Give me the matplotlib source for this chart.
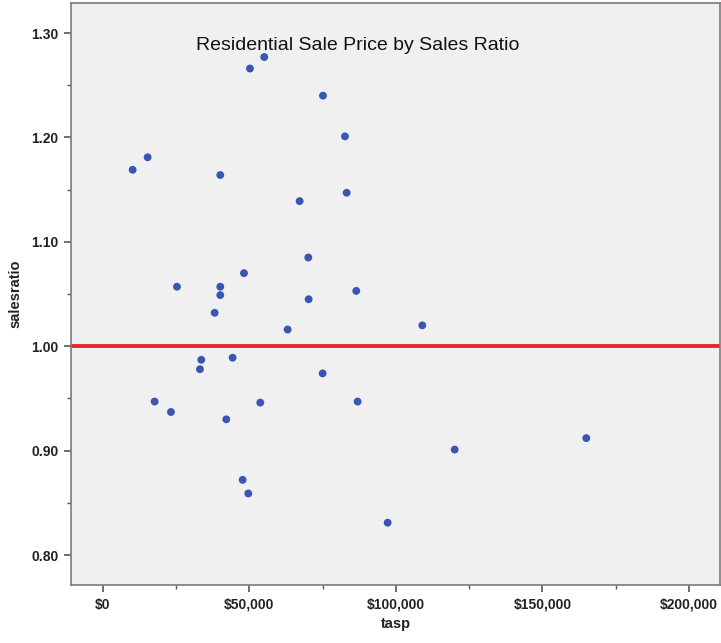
import matplotlib
matplotlib.use("Agg")
import matplotlib.pyplot as plt
from matplotlib.ticker import FuncFormatter, MultipleLocator

# tasp (sale price) vs salesratio
tasp = [10130, 15250, 50170, 55060, 75090, 82600, 83170, 67130, 40040,
        70080, 48130, 25260, 40040, 40040, 38120, 70200, 86460, 63030,
        33560, 33110, 44260, 74970, 17640, 23210, 42090, 53700, 86920,
        47670, 49600, 108990, 120040, 164960, 97170]
salesratio = [1.169, 1.181, 1.266, 1.277, 1.240, 1.201, 1.147, 1.139, 1.164,
              1.085, 1.070, 1.057, 1.057, 1.049, 1.032, 1.045, 1.053, 1.016,
              0.987, 0.978, 0.989, 0.974, 0.947, 0.937, 0.930, 0.946, 0.947,
              0.872, 0.859, 1.020, 0.901, 0.912, 0.831]
ref_ratio = 1.0

plt.rcParams['font.family'] = ['Liberation Sans', 'DejaVu Sans']

fig = plt.figure(figsize=(7.21, 6.43), dpi=100)
ax = fig.add_axes([0.0985, 0.0902, 0.9001, 0.9044])
ax.set_facecolor('#f0f0f0')

ax.scatter(tasp, salesratio, s=32, color='#3a56b4', edgecolors='none', zorder=3)
ax.axhline(ref_ratio, color='#e8262b', linewidth=2.8, zorder=2)

ax.set_xlim(-10900, 210600)
ax.set_ylim(0.7713, 1.3283)

ax.xaxis.set_major_locator(MultipleLocator(50000))
ax.xaxis.set_minor_locator(MultipleLocator(25000))
ax.yaxis.set_major_locator(MultipleLocator(0.1))
ax.yaxis.set_minor_locator(MultipleLocator(0.05))
ax.xaxis.set_major_formatter(FuncFormatter(lambda x, pos: '${:,.0f}'.format(x)))
ax.yaxis.set_major_formatter(FuncFormatter(lambda y, pos: '%.2f' % y))

for side in ['top', 'right', 'left', 'bottom']:
    ax.spines[side].set_color('#7a7a7a')
    ax.spines[side].set_linewidth(1.2)
ax.tick_params(which='major', length=5, width=1.2, color='#555555',
               labelsize=10, pad=4)
ax.tick_params(which='minor', length=3, width=1.0, color='#555555')
for lbl in ax.get_xticklabels() + ax.get_yticklabels():
    lbl.set_fontweight('bold')
    lbl.set_color('#222222')

ax.set_xlabel('tasp', fontsize=10.5, fontweight='bold', color='#222222', labelpad=4)
ax.set_ylabel('salesratio', fontsize=10.5, fontweight='bold', color='#222222', labelpad=6)

# title sits inside the plot, a bit left of centre
ax.text(0.441, 0.927, 'Residential Sale Price by Sales Ratio', transform=ax.transAxes,
        ha='center', va='center', fontsize=14, color='#111111')

fig.savefig('out.png', dpi=100)
